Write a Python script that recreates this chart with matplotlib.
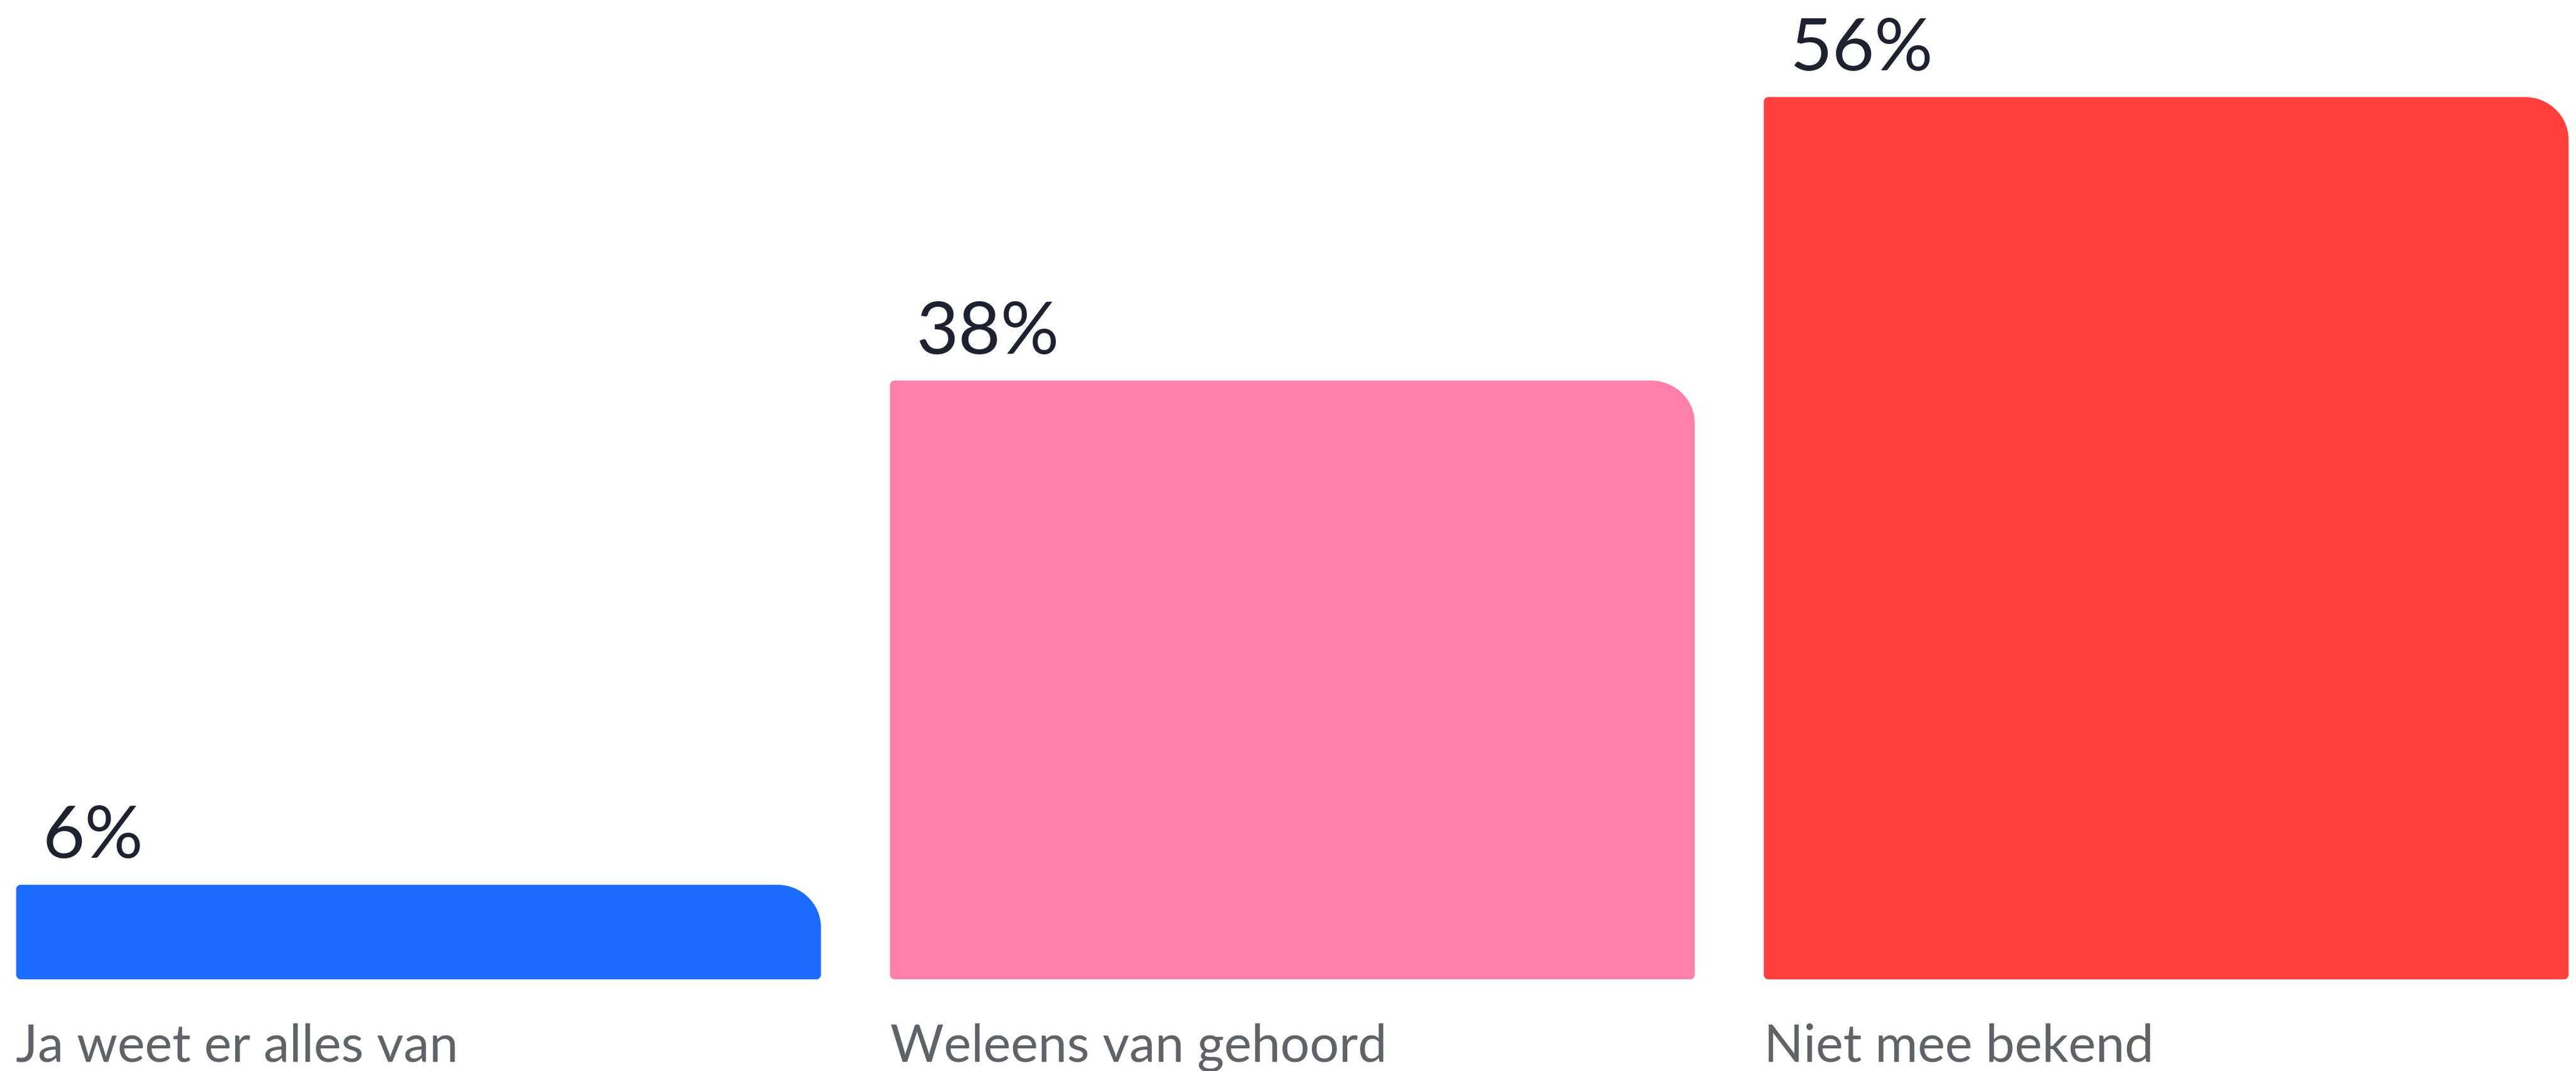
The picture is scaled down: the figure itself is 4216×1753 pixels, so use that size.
import numpy as np
import matplotlib
matplotlib.use("Agg")
import matplotlib.pyplot as plt
from matplotlib.path import Path
from matplotlib.patches import PathPatch

plt.rcParams['font.family'] = ['Lato', 'DejaVu Sans']

# data
categories = ["Ja weet er alles van", "Weleens van gehoord", "Niet mee bekend"]
values = [6, 38, 56]
colors = ["#1b6cff", "#ff80aa", "#ff403d"]

fig = plt.figure(figsize=(42.16, 17.53), dpi=100)
ax = fig.add_axes([0, 0, 1, 1])
ax.set_xlim(-0.479, 2.469)
ax.set_ylim(-5.82, 62.16)
ax.axis("off")

x = np.arange(len(values))
bars = ax.bar(x, values, width=0.921, color=colors)


def rounded_path(x0, y0, w, h, rx, ry, sx, sy):
    # big radius on top-right, small radius on the other corners
    k = 0.5523
    x1, y1 = x0 + w, y0 + h
    verts = [
        (x0 + sx, y0),
        (x1 - sx, y0),
        (x1 - sx + k * sx, y0), (x1, y0 + sy - k * sy), (x1, y0 + sy),
        (x1, y1 - ry),
        (x1, y1 - ry + k * ry), (x1 - rx + k * rx, y1), (x1 - rx, y1),
        (x0 + sx, y1),
        (x0 + sx - k * sx, y1), (x0, y1 - sy + k * sy), (x0, y1 - sy),
        (x0, y0 + sy),
        (x0, y0 + sy - k * sy), (x0 + sx - k * sx, y0), (x0 + sx, y0),
        (x0 + sx, y0),
    ]
    codes = [Path.MOVETO, Path.LINETO,
             Path.CURVE4, Path.CURVE4, Path.CURVE4,
             Path.LINETO,
             Path.CURVE4, Path.CURVE4, Path.CURVE4,
             Path.LINETO,
             Path.CURVE4, Path.CURVE4, Path.CURVE4,
             Path.LINETO,
             Path.CURVE4, Path.CURVE4, Path.CURVE4,
             Path.CLOSEPOLY]
    return Path(verts, codes)


for b, c in zip(bars, colors):
    bx, by = b.get_x(), b.get_y()
    bw, bh = b.get_width(), b.get_height()
    b.set_visible(False)
    p = rounded_path(bx, by, bw, bh, 0.05, 2.7, 0.005, 0.3)
    ax.add_patch(PathPatch(p, facecolor=c, edgecolor="none"))

for i, (b, v) in enumerate(zip(bars, values)):
    ax.text(b.get_x() + 0.03, v + 1.7, f"{v}%", fontsize=86, color="#1e2230",
            ha="left", va="baseline")
    ax.text(b.get_x(), -5.2, categories[i], fontsize=61, color="#5f6368",
            ha="left", va="baseline")

fig.savefig("out.png", dpi=100, facecolor="white")
